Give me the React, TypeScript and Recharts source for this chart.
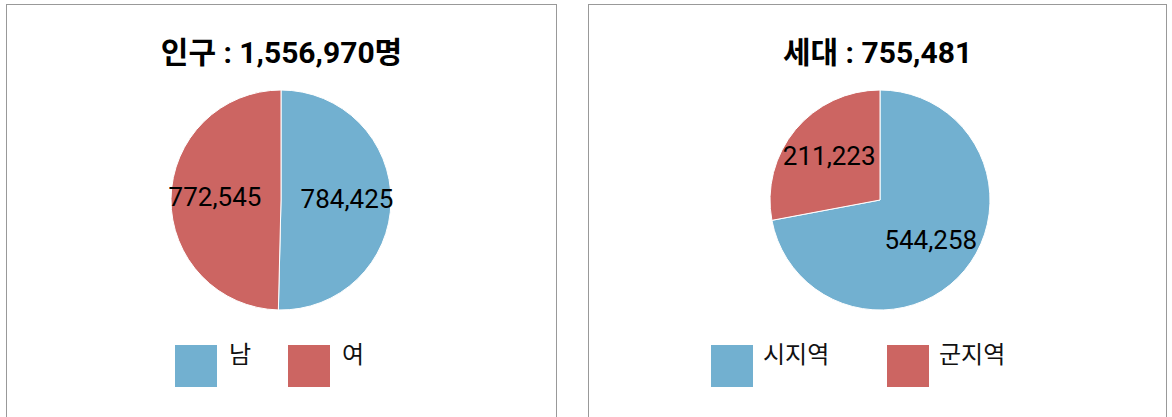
import { Cell, Legend, Pie, PieChart } from "recharts";

const popNames = ["남", "여"];
const popValues = [784425, 772545];
const popTitle = "인구 : 1,556,970명";

const hhNames = ["시지역", "군지역"];
const hhValues = [544258, 211223];
const hhTitle = "세대 : 755,481";

const COLORS = ["#72B0D0", "#CC6562"];
const RAD = Math.PI / 180;
const FONT = "Roboto, 'Noto Sans CJK KR', sans-serif";

function renderLabel(props: any) {
  const { cx, cy, midAngle, outerRadius, value } = props;
  const r = outerRadius * 0.6;
  const x = cx + r * Math.cos(-midAngle * RAD);
  const y = cy + r * Math.sin(-midAngle * RAD);
  return (
    <text
      x={x}
      y={y - 2}
      fill="#000"
      fontSize={26}
      fontFamily={FONT}
      textAnchor="middle"
      dominantBaseline="central"
    >
      {value.toLocaleString("en-US")}
    </text>
  );
}

// legend items come straight from the arrays so the order stays as given
function SquareLegend({ names, step, textGap }: any) {
  return (
    <div style={{ position: "relative", height: 44 }}>
      {names.map((name: string, i: number) => (
        <div key={name} style={{ position: "absolute", left: i * step, top: 0 }}>
          <div style={{ width: 42, height: 42, background: COLORS[i] }} />
          <div
            style={{
              position: "absolute",
              left: textGap,
              top: -10,
              fontSize: 24,
              fontFamily: FONT,
              color: "#111",
              whiteSpace: "nowrap",
            }}
          >
            {name}
          </div>
        </div>
      ))}
    </div>
  );
}

function PiePanel({
  left,
  width,
  title,
  names,
  values,
  cx,
  legendLeft,
  step,
  textGap,
}: {
  left: number;
  width: number;
  title: string;
  names: string[];
  values: number[];
  cx: number;
  legendLeft: number;
  step: number;
  textGap: number;
}) {
  const data = names.map((name, i) => ({ name, value: values[i] }));
  return (
    <div
      style={{
        position: "absolute",
        left,
        top: 4,
        width: width - 2,
        height: 440,
        border: "1px solid #999",
        background: "#fff",
      }}
    >
      <div
        style={{
          position: "absolute",
          left: 0,
          width: width - 2,
          top: 30,
          textAlign: "center",
          fontFamily: FONT,
          fontWeight: 700,
          fontSize: 30,
          color: "#000",
          lineHeight: "36px",
        }}
      >
        {title}
      </div>
      <PieChart width={width - 2} height={430} margin={{ top: 0, right: 0, bottom: 0, left: 0 }}>
        <Pie
          data={data}
          dataKey="value"
          nameKey="name"
          cx={cx}
          cy={195}
          outerRadius={110}
          startAngle={90}
          endAngle={-270}
          stroke="#fff"
          strokeWidth={1}
          label={renderLabel}
          labelLine={false}
          isAnimationActive={false}
        >
          {data.map((d, i) => (
            <Cell key={d.name} fill={COLORS[i]} />
          ))}
        </Pie>
        <Legend
          wrapperStyle={{ position: "absolute", left: legendLeft, top: 340, width: 400 }}
          content={() => <SquareLegend names={names} step={step} textGap={textGap} />}
        />
      </PieChart>
    </div>
  );
}

export default function App() {
  return (
    <div
      style={{
        position: "fixed",
        left: 0,
        top: 0,
        width: 1172,
        height: 417,
        background: "#fff",
        overflow: "hidden",
      }}
    >
      <PiePanel
        left={6}
        width={551}
        title={popTitle}
        names={popNames}
        values={popValues}
        cx={274}
        legendLeft={168}
        step={113}
        textGap={54}
      />
      <PiePanel
        left={588}
        width={579}
        title={hhTitle}
        names={hhNames}
        values={hhValues}
        cx={291}
        legendLeft={122}
        step={176}
        textGap={52}
      />
    </div>
  );
}
